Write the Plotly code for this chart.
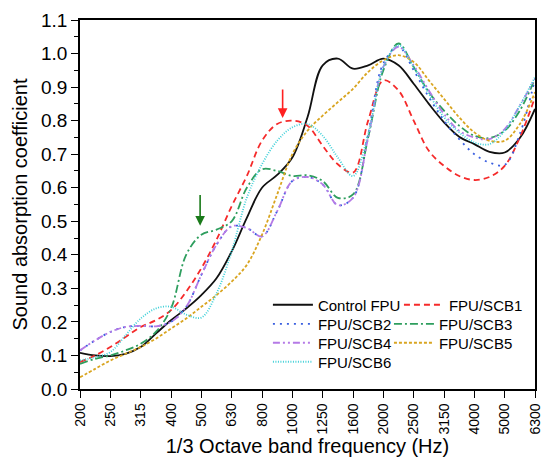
import plotly.graph_objects as go

# band labels (1/3 octave), values sampled at every half band (index 0..15 step 0.5)
bands = ["200", "250", "315", "400", "500", "630", "800", "1000", "1250",
         "1600", "2000", "2500", "3150", "4000", "5000", "6300"]
pos = [i * 0.5 for i in range(31)]

control = [0.108, 0.100, 0.098, 0.105, 0.125, 0.165, 0.205, 0.240, 0.280, 0.330,
           0.410, 0.510, 0.600, 0.638, 0.690, 0.810, 0.965, 0.985, 0.955, 0.965,
           0.985, 0.965, 0.910, 0.850, 0.795, 0.752, 0.730, 0.707, 0.705, 0.748, 0.835]
scb1 = [0.080, 0.100, 0.125, 0.155, 0.185, 0.205, 0.235, 0.290, 0.360, 0.445,
        0.545, 0.635, 0.740, 0.790, 0.800, 0.785, 0.725, 0.670, 0.645, 0.800,
        0.920, 0.890, 0.800, 0.710, 0.665, 0.635, 0.623, 0.632, 0.665, 0.750, 0.870]
scb2 = [0.115, 0.145, 0.170, 0.185, 0.188, 0.187, 0.200, 0.245, 0.340, 0.430,
        0.485, 0.480, 0.455, 0.530, 0.620, 0.632, 0.610, 0.548, 0.570, 0.760,
        0.970, 1.020, 0.950, 0.870, 0.800, 0.745, 0.700, 0.675, 0.668, 0.760, 0.925]
scb3 = [0.075, 0.090, 0.100, 0.115, 0.135, 0.170, 0.240, 0.400, 0.460, 0.475,
        0.500, 0.600, 0.655, 0.650, 0.635, 0.637, 0.620, 0.570, 0.580, 0.750,
        0.950, 1.030, 0.960, 0.885, 0.830, 0.785, 0.755, 0.748, 0.770, 0.830, 0.925]
scb4 = [0.115, 0.145, 0.170, 0.185, 0.188, 0.187, 0.200, 0.245, 0.340, 0.430,
        0.485, 0.480, 0.455, 0.530, 0.620, 0.632, 0.610, 0.548, 0.570, 0.750,
        0.960, 1.020, 0.965, 0.890, 0.820, 0.770, 0.750, 0.745, 0.775, 0.845, 0.925]
scb5 = [0.035, 0.060, 0.085, 0.105, 0.125, 0.150, 0.180, 0.210, 0.245, 0.280,
        0.320, 0.370, 0.460, 0.580, 0.700, 0.770, 0.815, 0.855, 0.895, 0.945,
        0.980, 0.995, 0.975, 0.920, 0.865, 0.810, 0.765, 0.740, 0.740, 0.790, 0.885]
scb6 = [0.085, 0.095, 0.110, 0.160, 0.210, 0.240, 0.245, 0.222, 0.213, 0.285,
        0.410, 0.570, 0.670, 0.740, 0.780, 0.790, 0.755, 0.690, 0.635, 0.760,
        0.960, 1.025, 0.960, 0.880, 0.810, 0.765, 0.735, 0.730, 0.770, 0.845, 0.930]

series = [
    ("Control FPU", control, "#111111", "solid", "legend"),
    ("FPU/SCB1", scb1, "#f52a2a", "6px,4px", "legend2"),
    ("FPU/SCB2", scb2, "#3a5fe0", "2px,5px", "legend3"),
    ("FPU/SCB3", scb3, "#2e9e5e", "8px,3px,2px,3px", "legend4"),
    ("FPU/SCB4", scb4, "#b57ae6", "7px,3px,2px,3px,2px,3px", "legend5"),
    ("FPU/SCB5", scb5, "#d9a521", "3px,2px", "legend6"),
    ("FPU/SCB6", scb6, "#3fd0d8", "1px,1.5px", "legend7"),
]

fig = go.Figure()
for name, vals, col, dash, lg in series:
    fig.add_trace(go.Scatter(
        x=pos, y=vals, mode="lines", name=name, legend=lg,
        line=dict(color=col, width=1.8, dash=dash, shape="spline", smoothing=1.0),
    ))

font = "Arial, Liberation Sans, sans-serif"
lfont = dict(family=font, size=15, color="black")
# legend rows: col1 Control, SCB2, SCB4, SCB6; col2 SCB1, SCB3, SCB5
row_y = [0.2276, 0.176, 0.1247, 0.0732]
c1 = 0.413
leg = dict(
    legend=dict(x=c1, y=row_y[0]),
    legend2=dict(x=0.701, y=row_y[0]),
    legend3=dict(x=c1, y=row_y[1]),
    legend4=dict(x=0.679, y=row_y[1]),
    legend5=dict(x=c1, y=row_y[2]),
    legend6=dict(x=0.679, y=row_y[2]),
    legend7=dict(x=c1, y=row_y[3]),
)
for k, v in leg.items():
    v.update(xanchor="left", yanchor="middle", font=lfont,
             bgcolor="rgba(0,0,0,0)", borderwidth=0, itemwidth=40)
fig.update_layout(**leg)

fig.update_layout(
    width=541, height=463,
    margin=dict(l=80, r=6, t=20, b=74),
    paper_bgcolor="white", plot_bgcolor="white",
    font=dict(family=font, color="black"),
    showlegend=True,
)
fig.update_xaxes(
    range=[0, 15], tickmode="array", tickvals=list(range(len(bands))), ticktext=bands,
    tickangle=-90, tickfont=dict(size=14, family=font), ticklabeloverflow="allow",
    ticks="outside", ticklen=7, tickwidth=1.3, tickcolor="black",
    showline=True, linecolor="black", linewidth=1.5, mirror=True,
    showgrid=False, zeroline=False, automargin=False,
    title=dict(text="1/3 Octave band frequency (Hz)", font=dict(size=20, family=font), standoff=4),
)
fig.update_yaxes(
    range=[0, 1.1], tickmode="linear", tick0=0, dtick=0.1, tickformat=".1f",
    tickfont=dict(size=19, family=font),
    ticks="outside", ticklen=7, tickwidth=1.3, tickcolor="black",
    minor=dict(ticks="outside", ticklen=4, tickwidth=1.2, tickcolor="black", dtick=0.05),
    showline=True, linecolor="black", linewidth=1.5, mirror=True,
    showgrid=False, zeroline=False, automargin=False,
    title=dict(text="Sound absorption coefficient", font=dict(size=20, family=font), standoff=8),
)

# arrows marking the new absorption peaks
fig.add_annotation(x=6.68, y=0.808, ax=6.68, ay=0.897, xref="x", yref="y", axref="x", ayref="y",
                   text="", showarrow=True, arrowhead=2, arrowsize=1.2, arrowwidth=1.6, arrowcolor="#ff2020")
fig.add_annotation(x=3.96, y=0.487, ax=3.96, ay=0.583, xref="x", yref="y", axref="x", ayref="y",
                   text="", showarrow=True, arrowhead=2, arrowsize=1.2, arrowwidth=1.6, arrowcolor="#1a7a1a")

fig.write_html("out.html", config={"displayModeBar": False},
               post_script="document.body.style.margin='0';document.body.style.overflow='hidden';")
